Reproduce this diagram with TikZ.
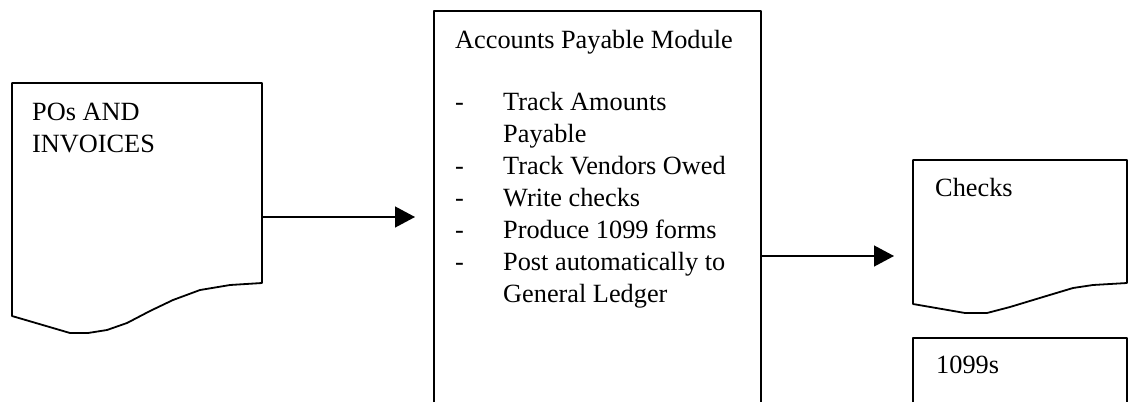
\documentclass[tikz,border=0pt]{standalone}
\usepackage{fontspec}
\setmainfont{Liberation Serif}
\usetikzlibrary{arrows.meta}

\tikzset{
  outline/.style={draw=black, line width=1.8pt, line join=round},
  flow/.style={draw=black, line width=1.3pt, -{Triangle[length=20pt, width=21pt]}},
  label/.style={inner sep=0pt, anchor=base west, font=\fontsize{26.3}{32}\selectfont},
}

\begin{document}
\begin{tikzpicture}[x=1pt, y=-1pt]
  \useasboundingbox (0,0) rectangle (1131,402);

  % source document: purchase orders and invoices
  \draw[outline] (12,316) -- (12,83) -- (262,83) -- (262,283)
    -- (230,285) -- (200,290) -- (173,300) -- (150,311) -- (127,323)
    -- (107,330) -- (88,333) -- (70,333) -- cycle;
  \node[label] (po) at (32,120) {POs AND};
  \node[label] (inv) at (32,152) {INVOICES};
  \coordinate (poout) at (262,217);

  % process box, running off the bottom of the page
  \draw[outline] (434,402) -- (434,11) -- (761,11) -- (761,402);
  \coordinate (apmin) at (415,217);
  \coordinate (apmout) at (761,256);
  \node[label] (apm) at (455,48) {Accounts Payable Module};
  \node[label] (tasks) at (455,110) {%
    \begin{tabular}[t]{@{}p{48pt}@{}l@{}}
      - & Track Amounts\\
        & Payable\\
      - & Track Vendors Owed\\
      - & Write checks\\
      - & Produce 1099 forms\\
      - & Post automatically to\\
        & General Ledger
    \end{tabular}};

  % output document: checks
  \draw[outline] (913,304) -- (913,160) -- (1127,160) -- (1127,283)
    -- (1093,285) -- (1073,288) -- (1043,297) -- (1010,307) -- (987,313)
    -- (965,313) -- cycle;
  \node[label] (checks) at (935,196) {Checks};
  \coordinate (checksin) at (894,256);

  % output box: 1099s, running off the bottom of the page
  \draw[outline] (913,402) -- (913,338) -- (1127,338) -- (1127,402);
  \node[label] (forms) at (936,373) {1099s};

  % flow arrows
  \draw[flow] (poout) -- (apmin);
  \draw[flow] (apmout) -- (checksin);
\end{tikzpicture}
\end{document}
